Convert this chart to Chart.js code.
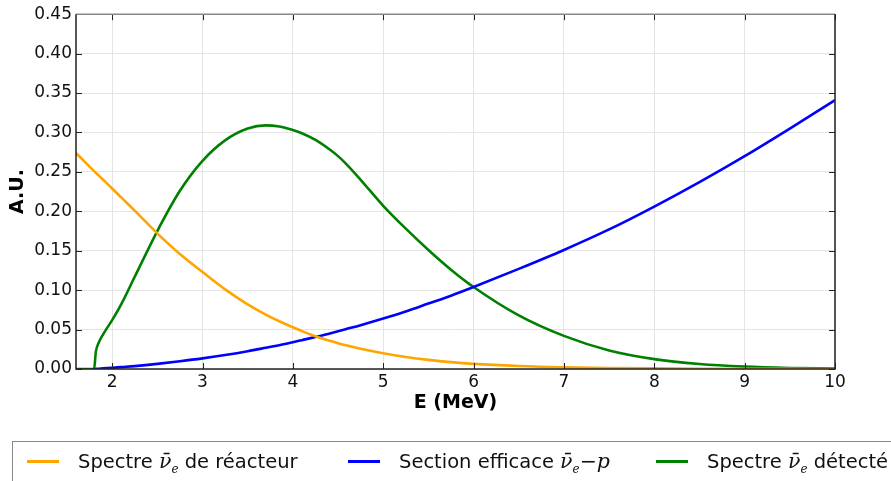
<!DOCTYPE html>
<html>
<head>
<meta charset="utf-8">
<script src="https://cdn.jsdelivr.net/npm/chart.js@4/dist/chart.umd.min.js"></script>
<style>
    html, body { margin: 0; padding: 0; background: #fff; overflow: hidden; }
    #wrap { position: relative; width: 891px; height: 481px; overflow: hidden; font-family: "DejaVu Sans", sans-serif; }
    #chart { position: absolute; left: 0; top: 0; }
    .legend { position: absolute; left: 12px; top: 441px; width: 960px; height: 60px; border: 1px solid #888; box-sizing: border-box; }
    .item { position: absolute; top: 5px; font-size: 19.5px; color: #111; white-space: nowrap; line-height: 28px; }
    .swatch { position: absolute; height: 3px; width: 32px; top: 18px; }
    .m { font-family: "DejaVu Serif", serif; font-style: italic; font-size: 20.5px; }
    .m sub { font-size: 12px; }
</style>
</head>
<body>
<div id="wrap">
    <canvas id="chart" width="891" height="481"></canvas>
    <div class="legend" id="legend"></div>
</div>
<script>
// Energy grid (MeV)
const energies = [1.6, 1.7, 1.8, 1.82, 1.85, 1.9, 2.0, 2.1, 2.25, 2.5, 2.75, 3.0, 3.25, 3.5, 3.7, 3.85, 4.0, 4.1, 4.25, 4.4, 4.5, 4.6, 4.75, 5.0, 5.25, 5.5, 5.75, 6.0, 6.5, 7.0, 7.5, 8.0, 8.5, 9.0, 9.5, 10.0];

// Reactor antineutrino spectrum (A.U.)
const reactorSpectrum = [0.274, 0.2624, 0.251, 0.2488, 0.2456, 0.240, 0.229, 0.2176, 0.2009, 0.172, 0.1458, 0.123, 0.101, 0.082, 0.069, 0.0605, 0.053, 0.048, 0.0415, 0.0361, 0.0327, 0.0297, 0.0257, 0.020, 0.0153, 0.0116, 0.0087, 0.0065, 0.0038, 0.0022, 0.0013, 0.00075, 0.0004, 0.0002, 0.0001, 0.00005];

// Inverse beta decay cross section (A.U.), zero below threshold
const crossSection = [null, null, 0.0, 0.0002, 0.0004, 0.0008, 0.0015, 0.0024, 0.0037, 0.0065, 0.0098, 0.0135, 0.0178, 0.0226, 0.0269, 0.0302, 0.034, 0.0366, 0.0405, 0.0448, 0.0478, 0.0509, 0.0556, 0.064, 0.073, 0.083, 0.093, 0.104, 0.127, 0.151, 0.177, 0.206, 0.237, 0.270, 0.305, 0.341];

// Detected spectrum (A.U.)
const detectedSpectrum = [0.0, 0.0, 0.0, 0.022, 0.033, 0.044, 0.062, 0.082, 0.117, 0.175, 0.226, 0.264, 0.290, 0.305, 0.309, 0.3075, 0.303, 0.299, 0.2905, 0.279, 0.270, 0.259, 0.240, 0.207, 0.178, 0.151, 0.126, 0.104, 0.068, 0.042, 0.0235, 0.0125, 0.0063, 0.003, 0.0013, 0.0005];

const xTicks = [2, 3, 4, 5, 6, 7, 8, 9, 10];
const yTicks = [0, 0.05, 0.10, 0.15, 0.20, 0.25, 0.30, 0.35, 0.40, 0.45];

const series = [
    { label: 'Spectre <span class="m">ν̄<sub>e</sub></span> de réacteur', data: reactorSpectrum, color: '#ffa500', left: 14, text: 65 },
    { label: 'Section efficace <span class="m">ν̄<sub>e</sub></span><span class="m">−p</span>', data: crossSection, color: '#0000ff', left: 335, text: 386 },
    { label: 'Spectre <span class="m">ν̄<sub>e</sub></span> détecté', data: detectedSpectrum, color: '#008000', left: 643, text: 694 }
];

function toPoints(values) {
    const pts = [];
    energies.forEach((e, i) => {
        if (values[i] !== null) pts.push({ x: e, y: values[i] });
    });
    return pts;
}

// Frame and inward ticks, matplotlib classic style
const framePlugin = {
    id: 'frame',
    afterDatasetsDraw(chart) {
        const { ctx, chartArea: a, scales } = chart;
        ctx.save();
        ctx.lineWidth = 1;
        ctx.strokeStyle = '#222';
        ctx.beginPath();
        xTicks.forEach(v => {
            const px = Math.round(scales.x.getPixelForValue(v)) + 0.5;
            ctx.moveTo(px, a.bottom); ctx.lineTo(px, a.bottom - 6);
            ctx.moveTo(px, a.top); ctx.lineTo(px, a.top + 6);
        });
        yTicks.forEach(v => {
            const py = Math.round(scales.y.getPixelForValue(v)) + 0.5;
            ctx.moveTo(a.left, py); ctx.lineTo(a.left + 6, py);
            ctx.moveTo(a.right, py); ctx.lineTo(a.right - 6, py);
        });
        ctx.stroke();
        ctx.lineWidth = 1.5;
        ctx.strokeStyle = '#888';
        ctx.beginPath();
        ctx.moveTo(a.left, a.top); ctx.lineTo(a.right, a.top);
        ctx.stroke();
        ctx.strokeStyle = '#222';
        ctx.beginPath();
        ctx.moveTo(a.right, a.top); ctx.lineTo(a.right, a.bottom);
        ctx.lineTo(a.left, a.bottom); ctx.lineTo(a.left, a.top);
        ctx.stroke();
        ctx.restore();
    }
};

const ctx = document.getElementById('chart').getContext('2d');
new Chart(ctx, {
    type: 'scatter',
    data: {
        datasets: series.map(s => ({
            label: s.label,
            data: toPoints(s.data),
            showLine: true,
            borderColor: s.color,
            backgroundColor: s.color,
            borderWidth: 2.6,
            pointRadius: 0,
            cubicInterpolationMode: 'monotone'
        }))
    },
    options: {
        responsive: false,
        animation: false,
        layout: { padding: { left: 0, top: 14, right: 56, bottom: 67 } },
        plugins: {
            legend: { display: false },
            tooltip: { enabled: false }
        },
        scales: {
            x: {
                type: 'linear',
                min: 1.6,
                max: 10,
                afterBuildTicks: scale => { scale.ticks = xTicks.map(v => ({ value: v })); },
                afterFit: scale => { scale.height = 45; },
                grid: { color: '#e4e4e4', drawTicks: false },
                border: { display: false },
                ticks: {
                    padding: 3,
                    color: '#111',
                    font: { family: 'DejaVu Sans', size: 17 },
                    callback: v => String(v)
                },
                title: {
                    display: true,
                    text: 'E (MeV)',
                    color: '#000',
                    padding: { top: 5, bottom: 0 },
                    font: { family: 'DejaVu Sans', size: 19, weight: 'bold' }
                }
            },
            y: {
                min: 0,
                max: 0.45,
                afterBuildTicks: scale => { scale.ticks = yTicks.map(v => ({ value: v })); },
                afterFit: scale => { scale.width = 76; },
                grid: { color: '#e4e4e4', drawTicks: false },
                border: { display: false },
                ticks: {
                    padding: 4,
                    color: '#111',
                    font: { family: 'DejaVu Sans', size: 17 },
                    callback: v => Number(v).toFixed(2)
                },
                title: {
                    display: true,
                    text: 'A.U.',
                    color: '#000',
                    padding: { top: 7, bottom: 0 },
                    font: { family: 'DejaVu Sans', size: 19, weight: 'bold' }
                }
            }
        }
    },
    plugins: [framePlugin]
});

// HTML legend (needs math-style labels)
const legend = document.getElementById('legend');
series.forEach(s => {
    const sw = document.createElement('div');
    sw.className = 'swatch';
    sw.style.left = s.left + 'px';
    sw.style.background = s.color;
    legend.appendChild(sw);
    const item = document.createElement('div');
    item.className = 'item';
    item.style.left = s.text + 'px';
    item.innerHTML = s.label;
    legend.appendChild(item);
});
</script>
</body>
</html>
